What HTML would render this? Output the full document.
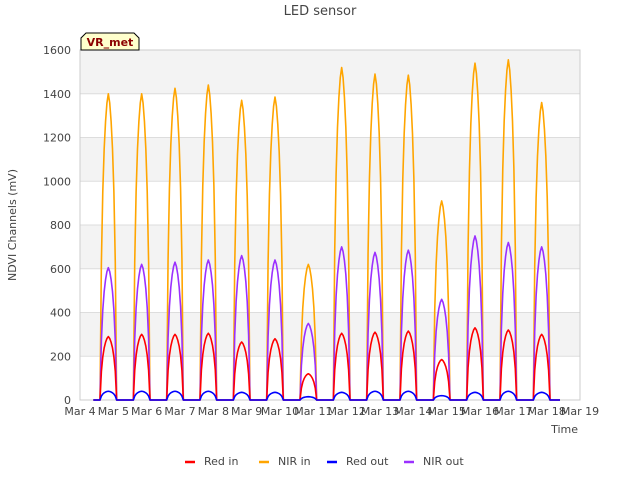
<!DOCTYPE html>
<html><head><meta charset="utf-8"><style>
body{margin:0;background:#fff;font-family:"Liberation Sans","DejaVu Sans",sans-serif}
svg text{font-family:"DejaVu Sans","Liberation Sans",sans-serif;fill:#444}
</style></head><body>
<svg id="chart" width="640" height="480">
<text x="320" y="15" text-anchor="middle" font-size="13">LED sensor</text>
<g id="bands"></g><g id="grid"></g>
<rect x="80" y="50" width="500" height="350" fill="none" stroke="#ccc"/>
<g id="series"></g>
<g id="axes"></g>
<text x="16" y="225" transform="rotate(-90 16 225)" text-anchor="middle" font-size="11">NDVI Channels (mV)</text>
<text x="578" y="433" text-anchor="end" font-size="11">Time</text>
<g>
<path d="M81,50 L81,38 L86,33 L134,33 L139,38 L139,50 Z" fill="#ffffcc" stroke="#000"/>
<text x="110" y="46" text-anchor="middle" font-size="11" font-weight="bold" style="fill:#8b0000">VR_met</text>
</g>
<g id="legend"></g>
</svg>
<script>
const dayLabels=["Mar 4","Mar 5","Mar 6","Mar 7","Mar 8","Mar 9","Mar 10","Mar 11","Mar 12","Mar 13","Mar 14","Mar 15","Mar 16","Mar 17","Mar 18","Mar 19"];
const yTicks=[0,200,400,600,800,1000,1200,1400,1600];
const seriesNames=["Red in","NIR in","Red out","NIR out"];
const seriesColors=["#ff0000","#ffa500","#0000ff","#9b30ff"];
const redIn=[290,300,300,305,265,280,120,305,310,315,185,330,320,300];
const nirIn=[1400,1400,1425,1440,1370,1385,620,1520,1490,1485,910,1540,1555,1360];
const redOut=[40,40,40,40,35,35,15,35,40,40,20,35,40,35];
const nirOut=[605,620,630,640,660,640,350,700,675,685,460,750,720,700];
const profile=[0,0.45,0.68,0.82,0.91,0.97,1,0.97,0.91,0.82,0.68,0.45,0];
const ns="http://www.w3.org/2000/svg";
const X=d=>80+d*(500/15), Y=v=>400-v*(350/1600);
function mk(t,a,p){const e=document.createElementNS(ns,t);for(const k in a)e.setAttribute(k,a[k]);(p||document.getElementById('chart')).appendChild(e);return e;}
const bands=document.getElementById('bands'),grid=document.getElementById('grid'),axes=document.getElementById('axes');
for(let i=0;i<yTicks.length-1;i++){if(i%2==1){const r=mk('rect',{x:80,y:Y(yTicks[i+1]),width:500,height:Y(yTicks[i])-Y(yTicks[i+1]),fill:'#f3f3f3'},bands);

}}
yTicks.forEach(v=>{const l=mk('line',{x1:80,x2:580,y1:Y(v),y2:Y(v),stroke:'#ddd'},grid);


const t=mk('text',{x:71,y:Y(v)+4,'text-anchor':'end','font-size':11},axes);t.textContent=v;

});
dayLabels.forEach((s,i)=>{const t=mk('text',{x:X(i),y:415,'text-anchor':'middle','font-size':11},axes);t.textContent=s;

});
const data=[redIn,nirIn,redOut,nirOut];
const order=[1,3,0,2];
const sg=document.getElementById('series');
order.forEach(si=>{const arr=data[si];let d='M'+X(0.4)+','+Y(0);
arr.forEach((pk,day)=>{const s=day+0.6,e=day+1.1;d+=' L'+X(s)+','+Y(0);
profile.forEach((p,j)=>{d+=' L'+X(s+(e-s)*j/(profile.length-1)).toFixed(2)+','+Y(pk*p).toFixed(2);});});
d+=' L'+X(14.4)+','+Y(0);
const p=mk('path',{d:d,fill:'none',stroke:seriesColors[si],'stroke-width':1.6,'stroke-linejoin':'round'},sg);

});
const lg=document.getElementById('legend');const lx=[185,259,327,404];
seriesNames.forEach((n,i)=>{const g=mk('g',{},lg);


mk('line',{x1:lx[i],x2:lx[i]+10,y1:462,y2:462,stroke:seriesColors[i],'stroke-width':2.5},g);
const t=mk('text',{x:lx[i]+19,y:465,'font-size':11},g);t.textContent=n;});
</script>
</body></html>
